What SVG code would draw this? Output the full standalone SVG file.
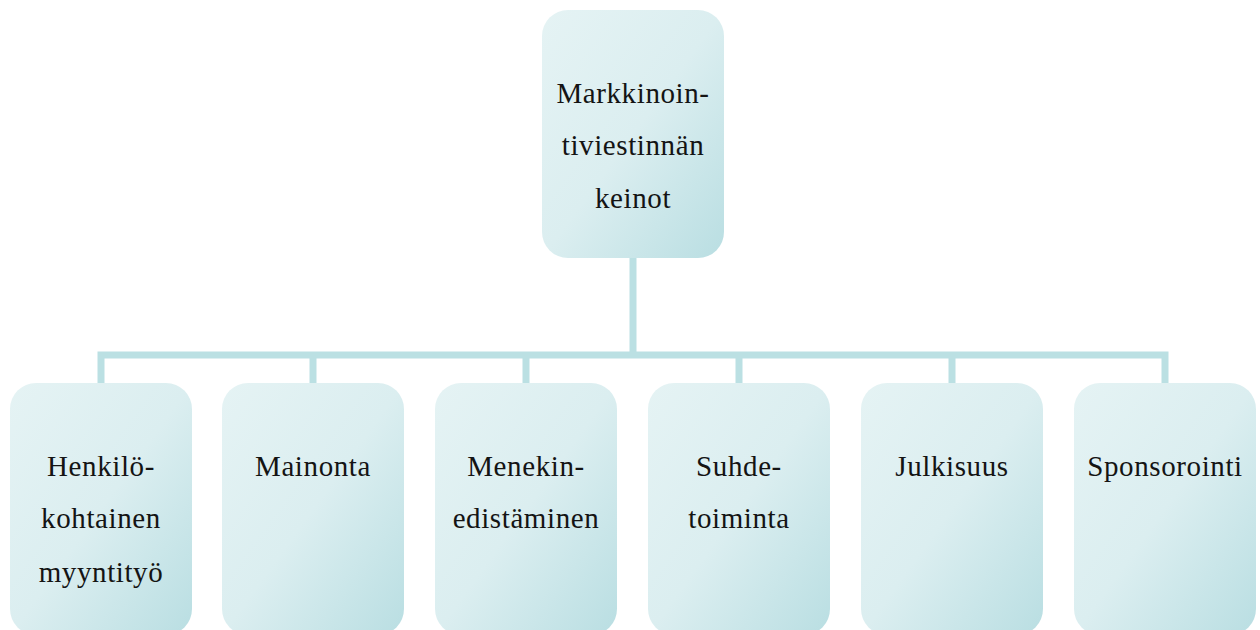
<svg xmlns="http://www.w3.org/2000/svg" width="1260" height="630" viewBox="0 0 1260 630">
<style>
.box{fill:url(#g);}
.t{font-family:"Liberation Serif","DejaVu Serif",serif;font-size:29px;letter-spacing:0.6px;fill:#141414;text-anchor:middle;}
.c{fill:none;stroke:#bbe0e3;stroke-width:7;}
</style>
<defs>
<linearGradient id="g" x1="0" y1="0" x2="1" y2="1">
<stop offset="0" stop-color="#e5f3f4"/>
<stop offset="0.5" stop-color="#dbeef0"/>
<stop offset="1" stop-color="#b9dee2"/>
</linearGradient>
</defs>
<g id="connectors">
<path class="c" d="M633 258V355M101 383V355H1165V383M313 355V383M526 355V383M739 355V383M952 355V383"/>
</g>
<g id="n0"><rect class="box" x="542" y="10" width="182" height="248" rx="26"/>
<text class="t" x="633" y="103">Markkinoin-</text><text class="t" x="633" y="155">tiviestinnän</text><text class="t" x="633" y="208">keinot</text></g>
<g id="n1"><rect class="box" x="10" y="383" width="182" height="252" rx="26"/>
<text class="t" x="101" y="476">Henkilö-</text><text class="t" x="101" y="528">kohtainen</text><text class="t" x="101" y="582">myyntityö</text></g>
<g id="n2"><rect class="box" x="222" y="383" width="182" height="252" rx="26"/>
<text class="t" x="313" y="476">Mainonta</text></g>
<g id="n3"><rect class="box" x="435" y="383" width="182" height="252" rx="26"/>
<text class="t" x="526" y="476">Menekin-</text><text class="t" x="526" y="528">edistäminen</text></g>
<g id="n4"><rect class="box" x="648" y="383" width="182" height="252" rx="26"/>
<text class="t" x="739" y="476">Suhde-</text><text class="t" x="739" y="528">toiminta</text></g>
<g id="n5"><rect class="box" x="861" y="383" width="182" height="252" rx="26"/>
<text class="t" x="952" y="476">Julkisuus</text></g>
<g id="n6"><rect class="box" x="1074" y="383" width="182" height="252" rx="26"/>
<text class="t" x="1165" y="476">Sponsorointi</text></g>
</svg>
